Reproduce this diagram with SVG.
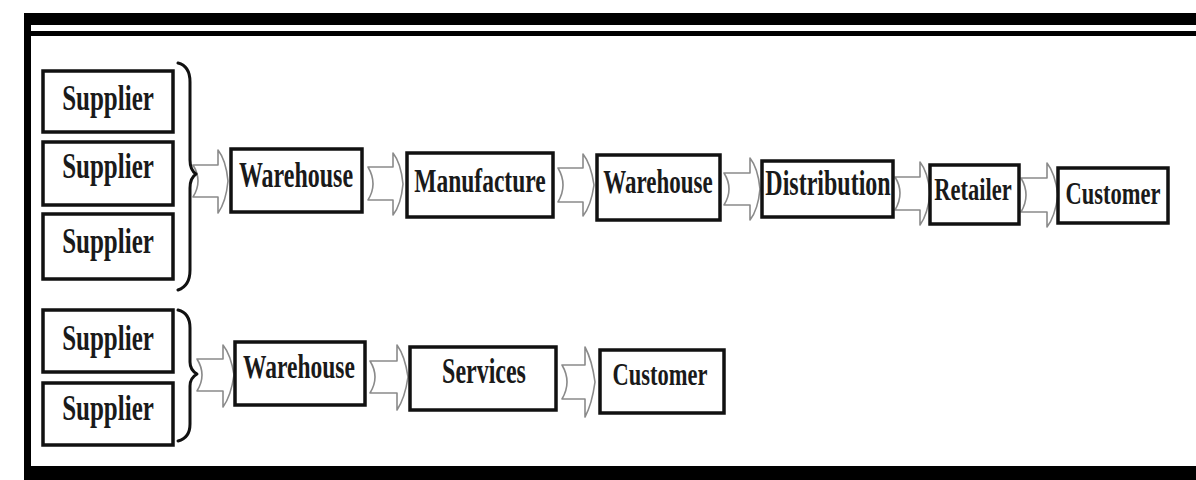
<svg xmlns="http://www.w3.org/2000/svg" width="1196" height="480" viewBox="0 0 1196 480">
<style>
.box{fill:#fff;stroke:#111;stroke-width:3.5}
.t{font-family:"Liberation Serif","Times New Roman",serif;font-weight:bold;font-size:24px;fill:#1a1a1a;text-anchor:middle}
.arr{fill:#fff;stroke:#8a8a8a;stroke-width:1.6;stroke-linejoin:round}
.brace{fill:none;stroke:#111;stroke-width:3;stroke-linecap:round;stroke-linejoin:round}
</style>
<rect width="1196" height="480" fill="#fff"/>
<g id="frame">
<rect x="24" y="13" width="1172" height="12" fill="#000"/>
<rect x="30" y="31" width="1166" height="5" fill="#000"/>
<rect x="24" y="13" width="7" height="467" fill="#000"/>
<rect x="24" y="466" width="1172" height="14" fill="#000"/>
</g>
<g id="connectors">
<path class="arr" d="M193,165 L218,165 L218,150 Q226,160 228,181 Q226,202 218,213 L218,197 L193,197 Q203,181 193,165 Z"/>
<path class="arr" d="M368,167 L393,167 L393,153 Q401,163 403,184 Q401,205 393,215 L393,200 L368,200 Q378,184 368,167 Z"/>
<path class="arr" d="M558,168 L583,168 L583,154 Q591,164 594,185 Q591,206 583,216 L583,202 L558,202 Q568,185 558,168 Z"/>
<path class="arr" d="M724,173 L750,173 L750,158 Q758,168 760,189 Q758,210 750,220 L750,205 L724,205 Q734,189 724,173 Z"/>
<path class="arr" d="M895,177 L920,177 L920,162 Q928,172 930,193 Q928,214 920,225 L920,210 L895,210 Q905,193 895,177 Z"/>
<path class="arr" d="M1021,178 L1047,178 L1047,163 Q1055,173 1058,195 Q1055,217 1047,227 L1047,212 L1021,212 Q1031,195 1021,178 Z"/>
<path class="arr" d="M197,359 L223,359 L223,345 Q231,355 234,375 Q231,396 223,407 L223,391 L197,391 Q207,375 197,359 Z"/>
<path class="arr" d="M370,361 L397,361 L397,345 Q405,356 408,377 Q405,398 397,410 L397,393 L370,393 Q380,377 370,361 Z"/>
<path class="arr" d="M562,365 L585,365 L585,347 Q592,360 595,382 Q592,404 585,417 L585,399 L562,399 Q572,382 562,365 Z"/>
<path class="brace" d="M178,63 Q190,66 190,82 L190,160 Q190,170 196,174 Q190,178 190,188 L190,270 Q190,286 178,290"/>
<path class="brace" d="M178,310 Q190,313 190,328 L190,362 Q190,370 197,374 Q190,378 190,386 L190,424 Q190,438 178,441"/>
</g>
<g id="supplier1"><rect class="box" x="43" y="71" width="130" height="61"/><text class="t" transform="translate(108,110) scale(1,1.45)" style="font-size:25px">Supplier</text></g>
<g id="supplier2"><rect class="box" x="43" y="142" width="130" height="63"/><text class="t" transform="translate(108,178) scale(1,1.45)" style="font-size:25px">Supplier</text></g>
<g id="supplier3"><rect class="box" x="43" y="214" width="130" height="65"/><text class="t" transform="translate(108,253) scale(1,1.45)" style="font-size:25px">Supplier</text></g>
<g id="warehouse1"><rect class="box" x="231" y="149" width="131" height="63"/><text class="t" transform="translate(296,187) scale(1,1.45)">Warehouse</text></g>
<g id="manufacture"><rect class="box" x="407" y="153" width="146" height="64"/><text class="t" transform="translate(480,192) scale(1,1.45)" style="font-size:23.5px">Manufacture</text></g>
<g id="warehouse2"><rect class="box" x="597" y="155" width="123" height="65"/><text class="t" transform="translate(658,193) scale(1,1.45)" style="font-size:23px">Warehouse</text></g>
<g id="distribution"><rect class="box" x="762" y="161" width="131" height="56"/><text class="t" transform="translate(828,195) scale(1,1.45)">Distribution</text></g>
<g id="retailer"><rect class="box" x="930" y="165" width="89" height="59"/><text class="t" transform="translate(973,200) scale(1,1.45)" style="font-size:22.5px">Retailer</text></g>
<g id="customer1"><rect class="box" x="1058" y="168" width="110" height="55"/><text class="t" transform="translate(1113,204) scale(1,1.45)" style="font-size:22.5px">Customer</text></g>
<g id="supplier4"><rect class="box" x="43" y="310" width="130" height="62"/><text class="t" transform="translate(108,350) scale(1,1.45)" style="font-size:25px">Supplier</text></g>
<g id="supplier5"><rect class="box" x="43" y="383" width="130" height="62"/><text class="t" transform="translate(108,420) scale(1,1.45)" style="font-size:25px">Supplier</text></g>
<g id="warehouse3"><rect class="box" x="235" y="342" width="130" height="63"/><text class="t" transform="translate(299,378) scale(1,1.45)" style="font-size:23.5px">Warehouse</text></g>
<g id="services"><rect class="box" x="410" y="347" width="146" height="63"/><text class="t" transform="translate(484,383) scale(1,1.45)">Services</text></g>
<g id="customer2"><rect class="box" x="600" y="350" width="124" height="63"/><text class="t" transform="translate(660,385) scale(1,1.45)" style="font-size:22.5px">Customer</text></g>
</svg>
